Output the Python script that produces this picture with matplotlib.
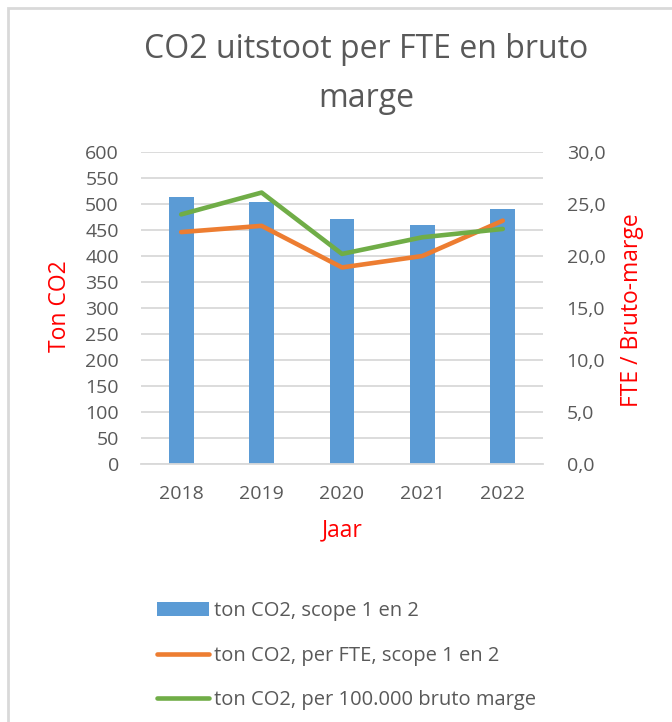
import matplotlib.pyplot as plt
from matplotlib.patches import Rectangle
from matplotlib.ticker import FuncFormatter, MultipleLocator

# Data
years = ['2018', '2019', '2020', '2021', '2022']
ton_co2 = [513, 504, 472, 460, 490]             # left axis, bars
per_fte = [22.3, 22.9, 18.9, 20.0, 23.4]        # right axis
per_marge = [24.0, 26.1, 20.2, 21.8, 22.6]      # right axis

BLUE = '#5B9BD5'
ORANGE = '#ED7D31'
GREEN = '#70AD47'
GREY = '#595959'
GRID = '#D9D9D9'

plt.rcParams['font.family'] = ['Open Sans', 'DejaVu Sans']

W, H = 672, 722
fig = plt.figure(figsize=(W / 100, H / 100), dpi=100)

# plot area in pixel coordinates
x0, x1, y_top, y_bot = 141, 543, 152, 464
ax = fig.add_axes([x0 / W, 1 - y_bot / H, (x1 - x0) / W, (y_bot - y_top) / H])
ax2 = ax.twinx()

xs = range(len(years))
bars = ax.bar(xs, ton_co2, width=0.31, color=BLUE, zorder=2,
              label='ton CO2, scope 1 en 2')
ax.set_xlim(-0.5, len(years) - 0.5)
ax.set_ylim(0, 600)
ax.yaxis.set_major_locator(MultipleLocator(50))
ax.grid(axis='y', color=GRID, linewidth=1.3, zorder=0)
ax.set_axisbelow(True)
ax.set_xticks(list(xs))
ax.set_xticklabels(years)

l1, = ax2.plot(xs, per_fte, color=ORANGE, linewidth=3.3,
               solid_capstyle='round', label='ton CO2, per FTE, scope 1 en 2')
l2, = ax2.plot(xs, per_marge, color=GREEN, linewidth=3.3,
               solid_capstyle='round', label='ton CO2, per 100.000 bruto marge')
ax2.set_ylim(0, 30)
ax2.yaxis.set_major_locator(MultipleLocator(5))
ax2.yaxis.set_major_formatter(FuncFormatter(lambda v, p: f'{v:.1f}'.replace('.', ',')))

for a in (ax, ax2):
    for s in a.spines.values():
        s.set_visible(False)
    a.tick_params(length=0, labelsize=14, labelcolor=GREY)
ax.spines['bottom'].set_visible(True)
ax.spines['bottom'].set_color(GRID)
ax.spines['bottom'].set_linewidth(1.3)
ax.tick_params(axis='y', pad=16)
ax.tick_params(axis='x', pad=15)
ax2.tick_params(axis='y', pad=17)

ax.set_xlabel('Jaar', color='red', fontsize=16.5, labelpad=11)
fig.text(60 / W, 1 - 306 / H, 'Ton CO2', color='red', fontsize=16.5,
         rotation=90, ha='center', va='center')
fig.text(632 / W, 1 - 310 / H, 'FTE / Bruto-marge', color='red', fontsize=16.5,
         rotation=90, ha='center', va='center')

fig.text(366 / W, 1 - 74 / H, 'CO2 uitstoot per FTE en bruto\nmarge', color=GREY,
         fontsize=23, ha='center', va='center', linespacing=1.62)

fig.legend(handles=[bars, l1, l2], loc='upper left',
           bbox_to_anchor=(149 / W, 1 - 593 / H), frameon=False,
           fontsize=14.5, labelcolor=GREY, handlelength=2.6, handleheight=0.72,
           handletextpad=0.22, labelspacing=1.22, borderaxespad=0)

# chart area border (only top/left visible in the crop)
fig.patches.append(Rectangle((8 / W, -0.1), 1.2, 1.1 - 8 / H, transform=fig.transFigure,
                             fill=False, edgecolor=GRID, linewidth=2))

fig.savefig('out.png', dpi=100)
